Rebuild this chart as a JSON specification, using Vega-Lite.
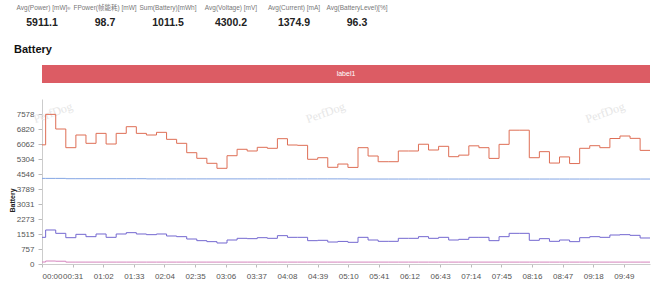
{
  "$schema": "https://vega.github.io/schema/vega-lite/v6.json",
  "background": "white",
  "padding": {"left": 8, "top": 0, "right": 4, "bottom": 0},
  "config": {
    "view": {"stroke": null},
    "font": "Liberation Sans, Noto Sans CJK SC, sans-serif"
  },
  "datasets": {
    "stats": [
      {"stat": "Avg(Power) [mW]", "avg": 5911.1},
      {"stat": "FPower(帧能耗) [mW]", "avg": 98.7},
      {"stat": "Sum(Battery)[mWh]", "avg": 1011.5},
      {"stat": "Avg(Voltage) [mV]", "avg": 4300.2},
      {"stat": "Avg(Current) [mA]", "avg": 1374.9},
      {"stat": "Avg(BatteryLevel)[%]", "avg": 96.3}
    ],
    "labels": [{"start": 0, "end": 615.5, "label": "label1"}],
    "marks": [
      {"t": 11, "mv": 7650, "label": "PerfDog"},
      {"t": 287, "mv": 7650, "label": "PerfDog"},
      {"t": 570, "mv": 7650, "label": "PerfDog"}
    ],
    "battery": [
      {"t": 0, "power": 6020, "voltage": 4325, "current": 1347, "level": 100},
      {"t": 3.7, "power": 7560, "voltage": 4325, "current": 1718, "level": 150},
      {"t": 13.9, "power": 6820, "voltage": 4325, "current": 1549, "level": 140},
      {"t": 24.1, "power": 5877, "voltage": 4310, "current": 1330, "level": 96},
      {"t": 34.3, "power": 6517, "voltage": 4310, "current": 1499, "level": 96},
      {"t": 44.5, "power": 6097, "voltage": 4310, "current": 1381, "level": 96},
      {"t": 54.7, "power": 6600, "voltage": 4310, "current": 1516, "level": 96},
      {"t": 64.9, "power": 6062, "voltage": 4310, "current": 1347, "level": 96},
      {"t": 75.1, "power": 6600, "voltage": 4310, "current": 1516, "level": 96},
      {"t": 85.3, "power": 6937, "voltage": 4310, "current": 1583, "level": 96},
      {"t": 95.5, "power": 6600, "voltage": 4310, "current": 1516, "level": 96},
      {"t": 105.7, "power": 6517, "voltage": 4300, "current": 1482, "level": 96},
      {"t": 115.9, "power": 6652, "voltage": 4300, "current": 1516, "level": 96},
      {"t": 126.1, "power": 6298, "voltage": 4300, "current": 1415, "level": 96},
      {"t": 136.3, "power": 6097, "voltage": 4300, "current": 1381, "level": 96},
      {"t": 146.5, "power": 5623, "voltage": 4300, "current": 1263, "level": 96},
      {"t": 156.7, "power": 5339, "voltage": 4300, "current": 1179, "level": 96},
      {"t": 166.9, "power": 5087, "voltage": 4300, "current": 1129, "level": 96},
      {"t": 177.1, "power": 4835, "voltage": 4300, "current": 1061, "level": 96},
      {"t": 187.3, "power": 5471, "voltage": 4300, "current": 1212, "level": 96},
      {"t": 197.5, "power": 5795, "voltage": 4300, "current": 1297, "level": 96},
      {"t": 207.7, "power": 5709, "voltage": 4300, "current": 1280, "level": 96},
      {"t": 217.9, "power": 5895, "voltage": 4300, "current": 1330, "level": 96},
      {"t": 228.1, "power": 5845, "voltage": 4300, "current": 1297, "level": 96},
      {"t": 238.3, "power": 6331, "voltage": 4300, "current": 1432, "level": 96},
      {"t": 248.5, "power": 6012, "voltage": 4300, "current": 1347, "level": 96},
      {"t": 258.7, "power": 5995, "voltage": 4300, "current": 1347, "level": 96},
      {"t": 268.9, "power": 5290, "voltage": 4300, "current": 1179, "level": 96},
      {"t": 279.1, "power": 5370, "voltage": 4300, "current": 1196, "level": 96},
      {"t": 289.3, "power": 4885, "voltage": 4300, "current": 1110, "level": 96},
      {"t": 299.5, "power": 5050, "voltage": 4300, "current": 1140, "level": 96},
      {"t": 309.7, "power": 4880, "voltage": 4292, "current": 1095, "level": 96},
      {"t": 319.9, "power": 5877, "voltage": 4292, "current": 1347, "level": 96},
      {"t": 330.1, "power": 5456, "voltage": 4292, "current": 1212, "level": 96},
      {"t": 340.3, "power": 5168, "voltage": 4292, "current": 1145, "level": 96},
      {"t": 350.5, "power": 5168, "voltage": 4292, "current": 1145, "level": 96},
      {"t": 360.7, "power": 5709, "voltage": 4292, "current": 1297, "level": 96},
      {"t": 370.9, "power": 5709, "voltage": 4292, "current": 1297, "level": 96},
      {"t": 381.1, "power": 6050, "voltage": 4292, "current": 1381, "level": 96},
      {"t": 391.3, "power": 5759, "voltage": 4292, "current": 1297, "level": 96},
      {"t": 401.5, "power": 5945, "voltage": 4292, "current": 1347, "level": 96},
      {"t": 411.7, "power": 5421, "voltage": 4292, "current": 1212, "level": 96},
      {"t": 421.9, "power": 5500, "voltage": 4292, "current": 1246, "level": 96},
      {"t": 432.1, "power": 5970, "voltage": 4292, "current": 1347, "level": 96},
      {"t": 442.3, "power": 5877, "voltage": 4292, "current": 1347, "level": 96},
      {"t": 452.5, "power": 5335, "voltage": 4292, "current": 1179, "level": 96},
      {"t": 462.7, "power": 6045, "voltage": 4292, "current": 1381, "level": 96},
      {"t": 472.9, "power": 6760, "voltage": 4292, "current": 1549, "level": 96},
      {"t": 483.1, "power": 6760, "voltage": 4292, "current": 1549, "level": 96},
      {"t": 493.3, "power": 5370, "voltage": 4292, "current": 1196, "level": 96},
      {"t": 503.5, "power": 5675, "voltage": 4292, "current": 1280, "level": 96},
      {"t": 513.7, "power": 5100, "voltage": 4292, "current": 1145, "level": 96},
      {"t": 523.9, "power": 5410, "voltage": 4292, "current": 1212, "level": 96},
      {"t": 534.1, "power": 5075, "voltage": 4292, "current": 1129, "level": 96},
      {"t": 544.3, "power": 5845, "voltage": 4292, "current": 1330, "level": 96},
      {"t": 554.5, "power": 5977, "voltage": 4292, "current": 1381, "level": 96},
      {"t": 564.7, "power": 5877, "voltage": 4292, "current": 1347, "level": 96},
      {"t": 574.9, "power": 6340, "voltage": 4292, "current": 1465, "level": 96},
      {"t": 585.1, "power": 6466, "voltage": 4292, "current": 1482, "level": 96},
      {"t": 595.3, "power": 6348, "voltage": 4292, "current": 1448, "level": 96},
      {"t": 605.5, "power": 5740, "voltage": 4292, "current": 1314, "level": 96},
      {"t": 615.5, "power": 5740, "voltage": 4292, "current": 1314, "level": 96}
    ]
  },
  "spacing": 14,
  "vconcat": [
    {
      "width": 608,
      "height": 30,
      "data": {"name": "stats"},
      "encoding": {
        "x": {
          "field": "stat",
          "type": "nominal",
          "sort": null,
          "scale": {"type": "point", "range": [0, 315], "padding": 0},
          "axis": null
        }
      },
      "layer": [
        {
          "mark": {"type": "text", "fontSize": 6.5, "color": "#777"},
          "encoding": {
            "y": {
              "datum": "label",
              "type": "nominal",
              "scale": {"type": "point", "domain": ["label", "value"], "range": [8, 23], "padding": 0},
              "axis": null
            },
            "text": {"field": "stat"}
          }
        },
        {
          "mark": {"type": "text", "fontSize": 10.5, "fontWeight": "bold", "color": "#222"},
          "encoding": {
            "y": {"datum": "value", "type": "nominal"},
            "text": {"field": "avg", "format": ".1f"}
          }
        },
        {
          "transform": [{"filter": "datum.stat === 'Avg(Power) [mW]'"}],
          "mark": {"type": "text", "text": "●", "fontSize": 6.5, "color": "#b8b8b8", "dx": 27},
          "encoding": {"y": {"datum": "label", "type": "nominal"}}
        },
        {
          "transform": [{"filter": "datum.stat === 'Avg(Power) [mW]'"}],
          "mark": {"type": "text", "text": "?", "fontSize": 4.5, "fontWeight": "bold", "color": "white", "dx": 27},
          "encoding": {"y": {"datum": "label", "type": "nominal"}}
        }
      ]
    },
    {
      "spacing": 16,
      "vconcat": [
        {
          "width": 608,
          "height": 18,
          "title": {
            "text": "Battery",
            "anchor": "start",
            "fontSize": 11,
            "fontWeight": "bold",
            "color": "#111",
            "dx": -28,
            "offset": 10
          },
          "data": {"name": "labels"},
          "layer": [
            {
              "mark": {"type": "rect", "color": "#dc5c64"},
              "encoding": {
                "x": {
                  "field": "start",
                  "type": "quantitative",
                  "scale": {"domain": [0, 615.5], "nice": false},
                  "axis": null
                },
                "x2": {"field": "end"}
              }
            },
            {
              "mark": {"type": "text", "color": "white", "fontSize": 7},
              "encoding": {"text": {"field": "label"}}
            }
          ]
        },
        {
          "width": 608,
          "height": 165,
          "encoding": {
            "x": {
              "field": "t",
              "type": "quantitative",
              "scale": {"domain": [0, 615.5], "nice": false, "zero": false},
              "axis": {
                "title": null,
                "values": [0, 31, 62, 93, 124, 155, 186, 217, 248, 279, 310, 341, 372, 403, 434, 465, 496, 527, 558, 589],
                "labelExpr": "utcFormat(datum.value * 1000, '%M:%S')",
                "labelFlush": true,
                "labelOverlap": false,
                "grid": false,
                "tickSize": 3,
                "labelPadding": 5,
                "labelFontSize": 8,
                "labelColor": "#555",
                "domainColor": "#ccc",
                "tickColor": "#bbb"
              }
            },
            "y": {
              "field": "mv",
              "type": "quantitative",
              "scale": {"domain": [0, 8336], "nice": false},
              "axis": {
                "title": "Battery",
                "values": [0, 757, 1515, 2273, 3031, 3789, 4546, 5304, 6062, 6820, 7578],
                "format": "d",
                "grid": false,
                "tickSize": 4,
                "labelPadding": 4,
                "labelFontSize": 8,
                "labelColor": "#555",
                "domainColor": "#ccc",
                "tickColor": "#bbb",
                "titleFontSize": 7,
                "titleFontWeight": "bold",
                "titleColor": "#222",
                "titleX": -30,
                "titleY": 101,
                "titleAlign": "center",
                "titleBaseline": "middle",
                "titleAngle": -90
              }
            }
          },
          "layer": [
            {
              "data": {"name": "marks"},
              "mark": {"type": "text", "angle": -20, "font": "Liberation Serif", "fontSize": 12, "color": "#e6e6e6"},
              "encoding": {"text": {"field": "label"}}
            },
            {
              "data": {"name": "battery"},
              "transform": [{"fold": ["power", "voltage", "current", "level"], "as": ["metric", "mv"]}],
              "mark": {"type": "line", "interpolate": "step-after", "strokeWidth": 1},
              "encoding": {
                "color": {
                  "field": "metric",
                  "type": "nominal",
                  "scale": {
                    "domain": ["power", "voltage", "current", "level"],
                    "range": ["#de6e55", "#84a6e4", "#7468d0", "#d583bd"]
                  },
                  "legend": null
                }
              }
            }
          ]
        }
      ]
    }
  ]
}
